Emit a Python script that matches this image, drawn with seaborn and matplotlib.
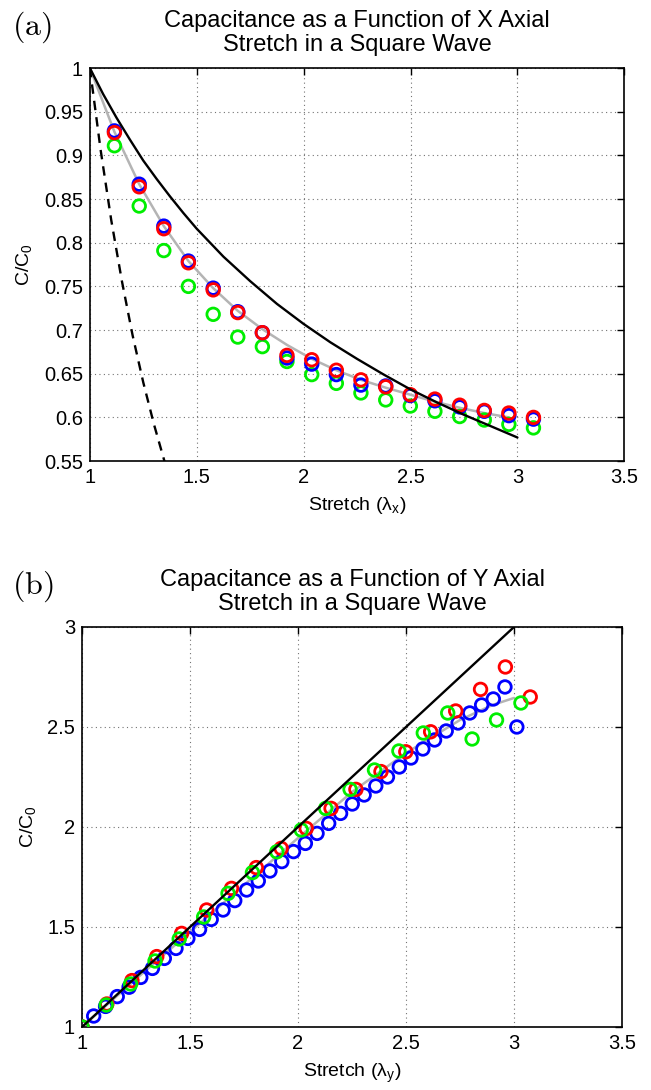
import numpy as np
import matplotlib
matplotlib.use("Agg")
import matplotlib.pyplot as plt
import seaborn as sns

# panel (a): X axial stretch
xa_stretch = [1.115, 1.231, 1.346, 1.461, 1.577, 1.692, 1.807, 1.922, 2.038,
              2.153, 2.268, 2.384, 2.499, 2.614, 2.730, 2.845, 2.960, 3.075]
xa_red = [0.926, 0.864, 0.816, 0.777, 0.746, 0.720, 0.697, 0.671, 0.666,
          0.654, 0.643, 0.635, 0.626, 0.621, 0.614, 0.608, 0.605, 0.600]
xa_blue = [0.928, 0.867, 0.819, 0.779, 0.748, 0.721, 0.697, 0.668, 0.661,
           0.649, 0.637, 0.636, 0.625, 0.619, 0.612, 0.607, 0.602, 0.598]
xa_green = [0.911, 0.842, 0.791, 0.750, 0.718, 0.692, 0.681, 0.664, 0.649,
            0.639, 0.628, 0.620, 0.613, 0.607, 0.601, 0.597, 0.592, 0.588]

xa_fit_x = [1.0, 1.115, 1.231, 1.346, 1.461, 1.577, 1.692, 1.807, 1.922,
            2.038, 2.153, 2.268, 2.384, 2.499, 2.614, 2.730, 2.845, 2.960]
xa_fit_y = [1.0, 0.927, 0.867, 0.819, 0.779, 0.748, 0.722, 0.701, 0.683,
            0.667, 0.654, 0.643, 0.634, 0.626, 0.618, 0.611, 0.605, 0.600]

xa_model_x = [1.0, 1.0625, 1.125, 1.1875, 1.25, 1.3125, 1.375, 1.4375, 1.5,
              1.625, 1.75, 1.875, 2.0, 2.125, 2.25, 2.375, 2.5, 2.625, 2.75,
              2.875, 3.0]
xa_model_y = [1.0, 0.970, 0.943, 0.918, 0.894, 0.873, 0.853, 0.834, 0.816,
              0.784, 0.756, 0.730, 0.707, 0.686, 0.667, 0.649, 0.632, 0.617,
              0.603, 0.590, 0.577]

xa_dash_x = [1.0, 1.05, 1.1, 1.15, 1.2, 1.25, 1.3, 1.35]
xa_dash_y = [1.0, 0.907, 0.826, 0.756, 0.694, 0.640, 0.592, 0.549]

# panel (b): Y axial stretch
yb_stretch = [1.0, 1.115, 1.231, 1.346, 1.461, 1.577, 1.692, 1.807, 1.922, 2.038,
              2.153, 2.268, 2.384, 2.499, 2.614, 2.730, 2.845, 2.960, 3.075]
yb_red = [1.0, 1.115, 1.232, 1.352, 1.468, 1.585, 1.693, 1.797, 1.893, 1.993,
          2.093, 2.188, 2.277, 2.376, 2.476, 2.580, 2.688, 2.800, 2.650]
yb_green_x = [1.0, 1.112, 1.225, 1.338, 1.450, 1.563, 1.676, 1.789, 1.902, 2.015,
              2.128, 2.241, 2.354, 2.467, 2.580, 2.693, 2.806, 2.919, 3.032]
yb_green = [1.0, 1.110, 1.215, 1.330, 1.440, 1.550, 1.668, 1.772, 1.876, 1.985,
            2.093, 2.188, 2.285, 2.380, 2.470, 2.570, 2.440, 2.535, 2.620]
yb_blue_x = [1.0, 1.054, 1.109, 1.163, 1.218, 1.272, 1.326, 1.381, 1.435, 1.490,
             1.544, 1.598, 1.653, 1.707, 1.762, 1.816, 1.870, 1.925, 1.979, 2.034,
             2.088, 2.142, 2.197, 2.251, 2.306, 2.360, 2.414, 2.469, 2.523, 2.578,
             2.632, 2.686, 2.741, 2.795, 2.850, 2.904, 2.958, 3.013]
yb_blue = [1.0, 1.055, 1.103, 1.152, 1.199, 1.248, 1.293, 1.343, 1.393, 1.443,
           1.488, 1.538, 1.585, 1.632, 1.685, 1.730, 1.780, 1.827, 1.877, 1.918,
           1.968, 2.018, 2.068, 2.115, 2.160, 2.205, 2.250, 2.300, 2.345, 2.390,
           2.435, 2.480, 2.520, 2.570, 2.610, 2.640, 2.700, 2.500]

yb_fit_x = [1.0, 1.25, 1.5, 1.75, 2.0, 2.25, 2.5, 2.75, 2.9, 3.0]
yb_fit_y = [1.0, 1.24, 1.475, 1.71, 1.945, 2.175, 2.37, 2.535, 2.61, 2.645]

yb_model_x = [1.0, 3.0]
yb_model_y = [1.0, 3.0]

x_ticks = [1, 1.5, 2, 2.5, 3, 3.5]
x_ticklabels = ["1", "1.5", "2", "2.5", "3", "3.5"]
ya_ticks = [0.55, 0.6, 0.65, 0.7, 0.75, 0.8, 0.85, 0.9, 0.95, 1.0]
ya_ticklabels = ["0.55", "0.6", "0.65", "0.7", "0.75", "0.8", "0.85", "0.9", "0.95", "1"]
yb_ticks = [1, 1.5, 2, 2.5, 3]
yb_ticklabels = ["1", "1.5", "2", "2.5", "3"]

sns.set_style("white")
plt.rcParams['font.family'] = ['Liberation Sans', 'DejaVu Sans']
plt.rcParams['text.color'] = 'k'
plt.rcParams['axes.labelcolor'] = 'k'

fig = plt.figure(figsize=(6.51, 10.9), dpi=100)
ax1 = fig.add_axes([0.138, 0.577, 0.821, 0.3606])
ax2 = fig.add_axes([0.126, 0.0578, 0.8295, 0.367])


def rings(ax, x, y, col, z):
    sns.scatterplot(x=x, y=y, ax=ax, marker='o', s=82, fc='none', ec=col,
                    linewidth=2.0, zorder=z, legend=False)


def style_axes(ax, yt, ytl, ylim, sub, title):
    ax.set_xlim(1, 3.5)
    ax.set_ylim(*ylim)
    ax.set_xticks(x_ticks)
    ax.set_xticklabels(x_ticklabels)
    ax.set_yticks(yt)
    ax.set_yticklabels(ytl)
    ax.tick_params(direction='in', length=5, width=1, labelsize=14.5,
                   top=True, right=True, pad=5, colors='k')
    ax.grid(True, linestyle=(0, (1, 3)), color='0.45', linewidth=0.8)
    for sp in ax.spines.values():
        sp.set_visible(True)
        sp.set_color('k')
        sp.set_linewidth(1.2)
    ax.set_xlabel('Stretch (λ$_\\mathregular{%s}$)' % sub, fontsize=14, labelpad=6)
    ax.set_ylabel('C/C$_\\mathregular{0}$', fontsize=14, labelpad=6)
    ax.set_title(title, fontsize=17, pad=12, linespacing=1.15, color='k')


# (a)
sns.lineplot(x=xa_fit_x, y=xa_fit_y, ax=ax1, color='#b4b4b4', linewidth=1.8,
             sort=False, estimator=None, zorder=2)
rings(ax1, xa_stretch, xa_green, '#00ee00', 3)
rings(ax1, xa_stretch, xa_blue, '#0000ff', 4)
rings(ax1, xa_stretch, xa_red, '#ff0000', 5)
sns.lineplot(x=xa_model_x, y=xa_model_y, ax=ax1, color='k', linewidth=1.7,
             sort=False, estimator=None, zorder=6)
sns.lineplot(x=xa_dash_x, y=xa_dash_y, ax=ax1, color='k', linewidth=1.7,
             linestyle=(0, (4, 3)), sort=False, estimator=None, zorder=6)
style_axes(ax1, ya_ticks, ya_ticklabels, (0.55, 1.0), 'x',
           "Capacitance as a Function of X Axial\nStretch in a Square Wave")

# (b)
sns.lineplot(x=yb_fit_x, y=yb_fit_y, ax=ax2, color='#b4b4b4', linewidth=1.8,
             sort=False, estimator=None, zorder=2)
rings(ax2, yb_blue_x, yb_blue, '#0000ff', 3)
rings(ax2, yb_stretch, yb_red, '#ff0000', 4)
rings(ax2, yb_green_x, yb_green, '#00ee00', 5)
sns.lineplot(x=yb_model_x, y=yb_model_y, ax=ax2, color='k', linewidth=1.7,
             sort=False, estimator=None, zorder=6)
style_axes(ax2, yb_ticks, yb_ticklabels, (1, 3), 'y',
           "Capacitance as a Function of Y Axial\nStretch in a Square Wave")

# panel letters
fig.text(0.018, 1 - 27 / 1090, r'$\mathrm{(a)}$', math_fontfamily='cm',
         fontsize=23, va='center', ha='left')
fig.text(0.018, 1 - 586 / 1090, r'$\mathrm{(b)}$', math_fontfamily='cm',
         fontsize=23, va='center', ha='left')

fig.savefig("out.png", dpi=100)
